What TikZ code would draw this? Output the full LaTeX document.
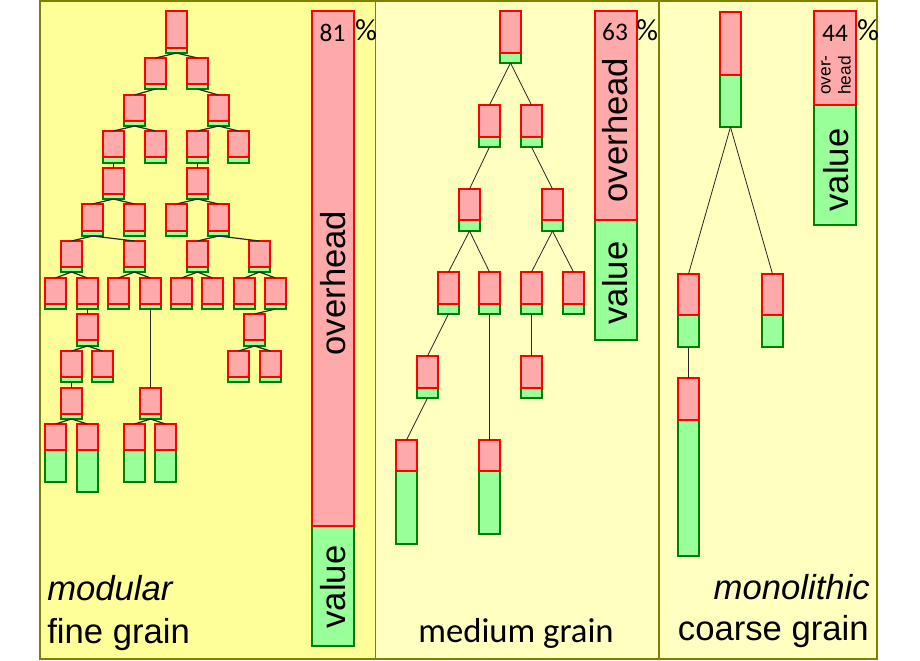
\documentclass[tikz,border=0pt]{standalone}
\usepackage{fontspec}
\setmainfont{Liberation Sans}
\newfontfamily\calib{Carlito}
\definecolor{finebg}{RGB}{255,255,153}
\definecolor{otherbg}{RGB}{255,255,192}
\definecolor{panelline}{RGB}{128,128,0}
\definecolor{ovhfill}{RGB}{255,170,170}
\definecolor{valfill}{RGB}{153,255,153}
\definecolor{valline}{RGB}{0,128,0}
\tikzset{
  ovhbox/.style={draw=red, fill=ovhfill, line width=0.8pt, anchor=north west,
    inner sep=0pt, outer sep=0pt, minimum width=21*0.75pt},
  valbox/.style={draw=valline, fill=valfill, line width=0.8pt, anchor=north west,
    inner sep=0pt, outer sep=0pt, minimum width=21*0.75pt},
  wide/.style={minimum width=42*0.75pt},
  link/.style={draw=black!85, line width=0.6pt},
  panel/.style={draw=panelline, line width=0.8pt},
  word/.style={font=\fontsize{26}{31}\selectfont, inner sep=0pt},
  grainname/.style={font=\fontsize{26}{31}\selectfont, inner sep=0pt},
  share/.style={font=\calib\fontsize{19}{22}\selectfont, inner sep=0pt},
  sharesign/.style={font=\calib\fontsize{23}{27}\selectfont, inner sep=0pt}
}
% #1 extra options, #2 name, #3 left, #4 top, #5 overhead height, #6 value height
\newcommand{\task}[6][]{%
  \node[valbox, #1, minimum height=#6*0.75pt] (#2-v) at (#3,#4+#5) {};
  \node[ovhbox, #1, minimum height=#5*0.75pt] (#2-o) at (#3,#4) {};
}
\begin{document}
\begin{tikzpicture}[x=0.75pt, y=-0.75pt]
  \useasboundingbox (0,0) rectangle (920,660);
  \draw[panel, fill=finebg] (40,1) rectangle (375.5,659);
  \draw[panel, fill=otherbg] (375.5,1) rectangle (659,659);
  \draw[panel, fill=otherbg] (659,1) rectangle (877,659);

  % fine grain
  \task{fr}{166}{11}{37}{5}
  \task{fa1}{145}{58}{26}{5}
  \task{fa2}{187}{58}{26}{5}
  \task{fb1}{124}{95}{26}{5}
  \task{fb2}{208}{95}{26}{5}
  \task{fc1}{103}{131}{26}{6}
  \task{fc2}{145}{131}{26}{6}
  \task{fc3}{187}{131}{26}{6}
  \task{fc4}{228}{131}{26}{6}
  \task{fd1}{103}{168}{26}{5}
  \task{fd2}{187}{168}{26}{5}
  \task{fe1}{82}{204}{27}{5}
  \task{fe2}{124}{204}{27}{5}
  \task{fe3}{166}{204}{27}{5}
  \task{fe4}{208}{204}{27}{5}
  \task{ff1}{61}{241}{26}{5}
  \task{ff2}{124}{241}{26}{5}
  \task{ff3}{187}{241}{26}{5}
  \task{ff4}{249}{241}{26}{5}
  \task{fg1}{45}{278}{26}{5}
  \task{fg2}{77}{278}{26}{5}
  \task{fg3}{108}{278}{26}{5}
  \task{fg4}{140}{278}{26}{5}
  \task{fg5}{171}{278}{26}{5}
  \task{fg6}{202}{278}{26}{5}
  \task{fg7}{234}{278}{26}{5}
  \task{fg8}{265}{278}{26}{5}
  \task{fh1}{77}{314}{26}{6}
  \task{fh2}{244}{314}{26}{6}
  \task{fi1}{61}{351}{26}{5}
  \task{fi2}{92}{351}{26}{5}
  \task{fi3}{228}{351}{26}{5}
  \task{fi4}{260}{351}{26}{5}
  \task{fj1}{61}{388}{26}{5}
  \task{fj2}{140}{388}{26}{5}
  \task{fk1}{45}{424}{26}{32}
  \task{fk2}{77}{424}{26}{42}
  \task{fk3}{124}{424}{26}{32}
  \task{fk4}{155}{424}{26}{32}
  \foreach \p/\c in {fr/fa1, fr/fa2, fa1/fb1, fa2/fb2, fb1/fc1, fb1/fc2, fb2/fc3, fb2/fc4,
      fc1/fd1, fc3/fd2, fd1/fe1, fd1/fe2, fd2/fe3, fd2/fe4, fe1/ff1, fe1/ff2, fe4/ff3, fe4/ff4,
      ff1/fg1, ff1/fg2, ff2/fg3, ff2/fg4, ff3/fg5, ff3/fg6, ff4/fg7, ff4/fg8,
      fg2/fh1, fg8/fh2, fh1/fi1, fh1/fi2, fh2/fi3, fh2/fi4, fi1/fj1, fg4/fj2,
      fj1/fk1, fj1/fk2, fj2/fk3, fj2/fk4}
    \draw[link, line width=0.9pt] (\p-v.south) -- (\c-o.north);
  \task[wide]{fbar}{312}{11}{515}{120}
  \node[share] (fpct) at (332.5,33) {81};
  \node[sharesign] (fsign) at (366,30) {\%};
  \node[word, rotate=90] (fovh) at (333,283) {overhead};
  \node[word, rotate=90] (fval) at (333,587) {value};
  \node[grainname, anchor=base west] (fmod) at (47,600) {\itshape modular};
  \node[grainname, anchor=base west] (fname) at (47,643) {fine grain};

  % medium grain
  \task{mr}{500}{11}{42}{10}
  \task{ma1}{479}{105}{32}{10}
  \task{ma2}{521}{105}{32}{10}
  \task{mb1}{459}{189}{31}{11}
  \task{mb2}{542}{189}{31}{11}
  \task{mc1}{438}{272}{32}{10}
  \task{mc2}{479}{272}{32}{10}
  \task{mc3}{521}{272}{32}{10}
  \task{mc4}{563}{272}{32}{10}
  \task{md1}{417}{356}{32}{10}
  \task{md2}{521}{356}{32}{10}
  \task{me1}{396}{440}{31}{73}
  \task{me2}{479}{440}{31}{63}
  \foreach \p/\c in {mr/ma1, mr/ma2, ma1/mb1, ma2/mb2, mb1/mc1, mb1/mc2, mb2/mc3, mb2/mc4,
      mc1/md1, mc3/md2, md1/me1, mc2/me2}
    \draw[link] (\p-v.south) -- (\c-o.north);
  \task[wide]{mbar}{595}{11}{209}{120}
  \node[share] (mpct) at (615,32) {63};
  \node[sharesign] (msign) at (647,30) {\%};
  \node[word, rotate=90] (movh) at (615.5,130) {overhead};
  \node[word, rotate=90] (mval) at (615.5,283) {value};
  \node[grainname, font=\calib\fontsize{26}{31}\selectfont, anchor=base] (mname) at (516,642) {medium grain};

  % coarse grain
  \task{cr}{720}{12}{63}{52}
  \task{ca1}{678}{274}{41}{32}
  \task{ca2}{762}{274}{41}{32}
  \task{cb1}{678}{378}{42}{136}
  \foreach \p/\c in {cr/ca1, cr/ca2, ca1/cb1}
    \draw[link] (\p-v.south) -- (\c-o.north);
  \task[wide]{cbar}{814}{11}{94}{120}
  \node[share] (cpct) at (835,33) {44};
  \node[sharesign] (csign) at (868,30) {\%};
  \node[rotate=90, anchor=west, align=left, inner sep=0pt,
    font=\fontsize{13}{15}\selectfont] (covh) at (836,95) {over-\\head};
  \node[word, rotate=90] (cval) at (836,170) {value};
  \node[grainname, anchor=base east] (cmono) at (870,599) {\itshape monolithic};
  \node[grainname, anchor=base east] (cname) at (869,640) {coarse grain};
\end{tikzpicture}
\end{document}
